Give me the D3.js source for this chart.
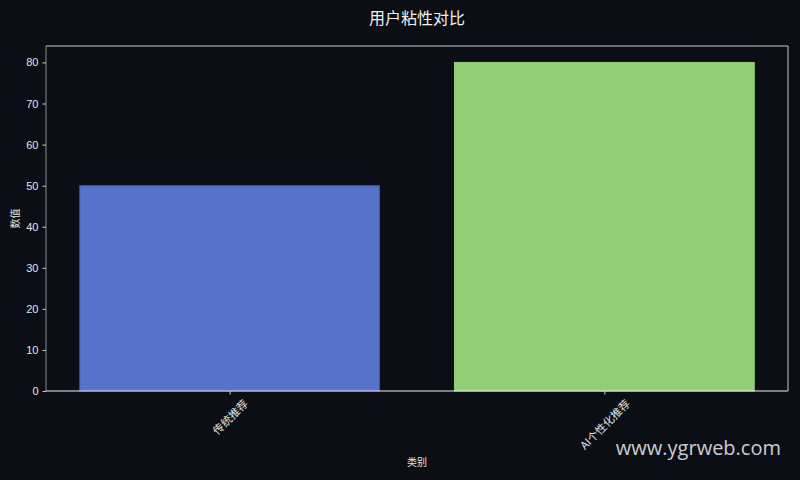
<!DOCTYPE html>
<html>
<head>
<meta charset="utf-8">
<script src="https://cdn.jsdelivr.net/npm/d3@7"></script>
<style>
  body { margin: 0; background: #0b0e15; }
  text { font-family: "Liberation Sans", "Noto Sans CJK SC", sans-serif; }
</style>
</head>
<body>
<div class="chart"></div>
<script>
var categories = ["传统推荐", "AI个性化推荐"];
var values = [50, 80];
var barColors = ["#5672c9", "#93cd76"];
var edgeColors = ["#3f56a0", "#93cd76"];
var yTicks = [0, 10, 20, 30, 40, 50, 60, 70, 80];

var W = 800, H = 480;
var margin = {left: 46, right: 12, top: 46, bottom: 89}; // plot box 46..788 x 46..391

var svg = d3.select(".chart").append("svg")
    .attr("width", W).attr("height", H);

svg.append("rect").attr("width", W).attr("height", H).attr("fill", "#0b0e15");

var x = d3.scaleLinear() // matplotlib style categorical positions
    .domain([-0.49, categories.length - 1 + 0.49])
    .range([margin.left, W - margin.right]);
var y = d3.scaleLinear()
    .domain([0, 84])
    .range([H - margin.bottom, margin.top]);

var g = svg.append("g");

// bars
g.selectAll(".bar")
    .data(values)
    .enter().append("rect")
    .attr("class", "bar")
    .attr("x", (d, i) => x(i - 0.4))
    .attr("width", (d, i) => x(i + 0.4) - x(i - 0.4))
    .attr("y", d => y(d))
    .attr("height", d => y(0) - y(d))
    .attr("fill", (d, i) => barColors[i])
    .attr("stroke", (d, i) => edgeColors[i])
    .attr("stroke-width", 1);

// spines
var x0 = margin.left, x1 = W - margin.right, y0 = y(0), y1 = margin.top;
svg.append("line").attr("x1", x0).attr("x2", x1).attr("y1", y1).attr("y2", y1).attr("stroke", "#c8c8c8");
svg.append("line").attr("x1", x1).attr("x2", x1).attr("y1", y1).attr("y2", y0).attr("stroke", "#c8c8c8");
svg.append("line").attr("x1", x0).attr("x2", x0).attr("y1", y1).attr("y2", y0).attr("stroke", "#8a8a8a");
svg.append("line").attr("x1", x0).attr("x2", x1).attr("y1", y0).attr("y2", y0).attr("stroke", "#f0f0f0");

// y axis
var yAxis = svg.append("g")
    .attr("transform", `translate(${x0},0)`)
    .call(d3.axisLeft(y).tickValues(yTicks).tickSize(3.5).tickPadding(4));
yAxis.select(".domain").remove();
yAxis.selectAll(".tick line").attr("stroke", "#cccccc");
yAxis.selectAll(".tick text").attr("fill", "#e4e4e4").style("font-size", "11px");

// x axis ticks
var xAxis = svg.append("g")
    .attr("transform", `translate(0,${y0})`)
    .call(d3.axisBottom(x).tickValues(d3.range(categories.length)).tickSize(3.5).tickFormat(""));
xAxis.select(".domain").remove();
xAxis.selectAll(".tick line").attr("stroke", "#cccccc");

// rotated category labels, centred under the tick like matplotlib rotation=45
categories.forEach(function(c, i) {
    var t = svg.append("text")
        .text(c)
        .attr("fill", "#e4e4e4")
        .style("font-size", "11px")
        .style("font-family", "'Noto Sans CJK SC', sans-serif")
        .attr("text-anchor", "middle")
        .attr("dominant-baseline", "central");
    var L = t.node().getComputedTextLength();
    var half = (L + 11) * Math.SQRT1_2 / 2;
    t.attr("transform", `translate(${x(i)},${y0 + 6 + half}) rotate(-45)`);
});

// axis titles
svg.append("text")
    .attr("x", (x0 + x1) / 2).attr("y", 466)
    .attr("text-anchor", "middle")
    .attr("fill", "#e4e4e4")
    .style("font-size", "10px")
    .style("font-family", "'Noto Sans CJK SC', sans-serif")
    .text("类别");
svg.append("text")
    .attr("transform", `translate(19,${(y0 + y1) / 2}) rotate(-90)`)
    .attr("text-anchor", "middle")
    .attr("fill", "#e4e4e4")
    .style("font-size", "10px")
    .style("font-family", "'Noto Sans CJK SC', sans-serif")
    .text("数值");

// title
svg.append("text")
    .attr("x", (x0 + x1) / 2).attr("y", 24)
    .attr("text-anchor", "middle")
    .attr("fill", "#f0f0f0")
    .style("font-size", "16px")
    .style("font-family", "'Noto Sans CJK SC', sans-serif")
    .text("用户粘性对比");

// watermark
svg.append("text")
    .attr("x", 781).attr("y", 455)
    .attr("text-anchor", "end")
    .attr("fill", "#ffffff")
    .attr("fill-opacity", 0.8)
    .style("font-size", "20px")
    .style("font-family", "'Open Sans', 'Noto Sans', sans-serif")
    .text("www.ygrweb.com");
</script>
</body>
</html>
